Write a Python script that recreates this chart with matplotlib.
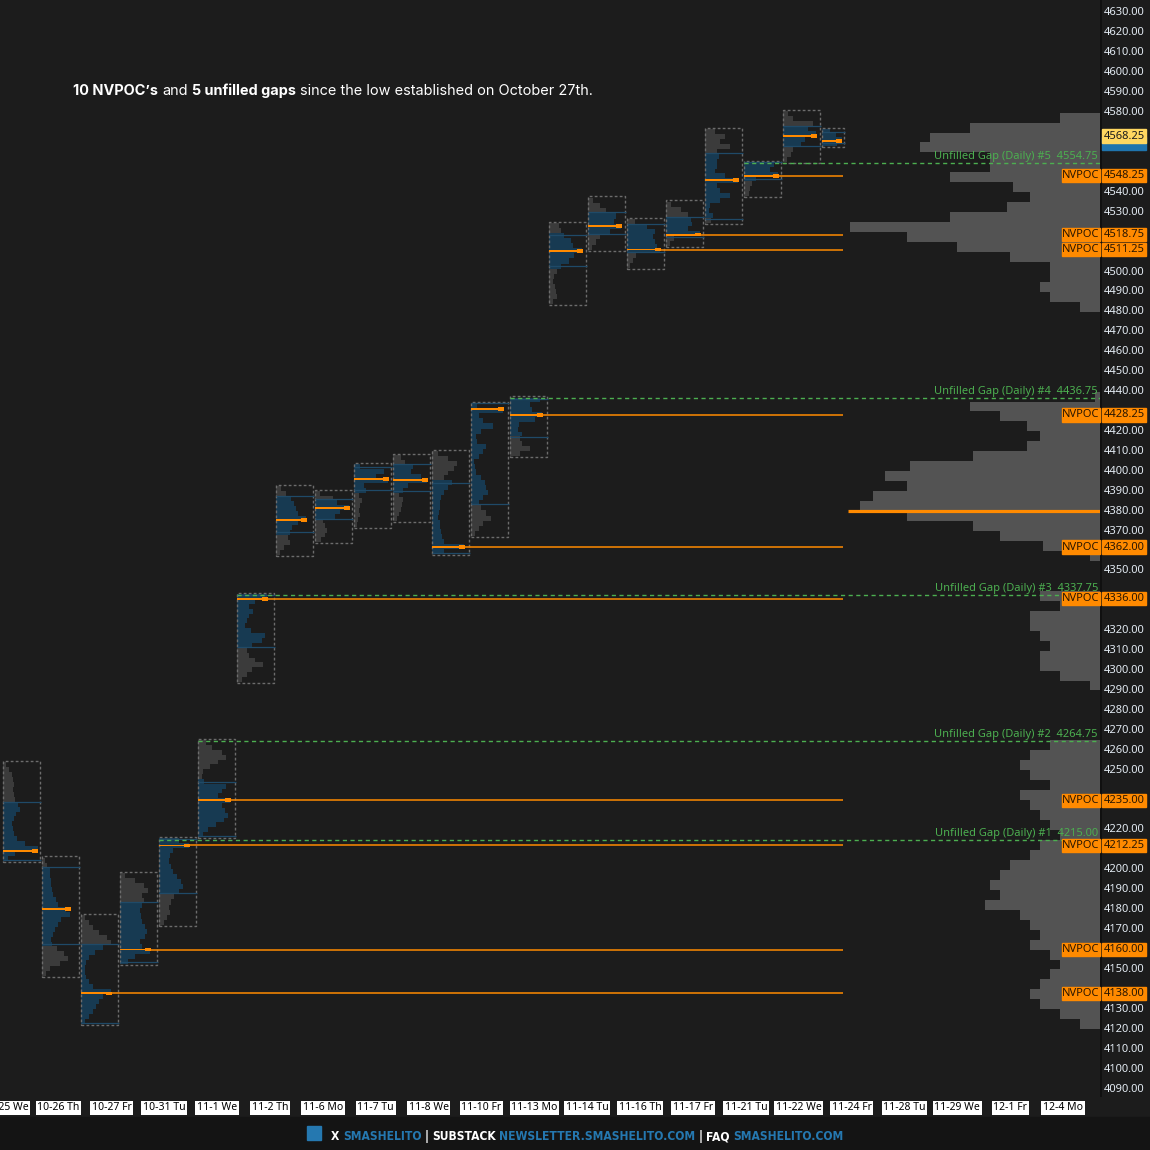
import numpy as np
import matplotlib
matplotlib.use('Agg')
import matplotlib.pyplot as plt
from matplotlib.patches import Rectangle
from matplotlib import font_manager

# colours
BG = '#1c1c1c'
BLUE = '#173a52'
GRAY = '#3b3b3b'
ORANGE = '#ff8a00'
GREEN = '#4caf50'

W, H = 1150, 1150

# daily profiles (prices), volume widths listed low -> high
day_low = [4204.5, 4146.7, 4122.6, 4152.7, 4172.3, 4216.5, 4294.3, 4358.0, 4364.5, 4372.0, 4375.0,
           4358.5, 4367.5, 4407.7, 4483.9, 4511.1, 4502.0, 4513.0, 4524.6, 4538.2, 4555.2, 4563.3]
day_high = [4254.0, 4206.0, 4177.3, 4198.4, 4216.0, 4265.0, 4338.4, 4392.6, 4390.1, 4403.7, 4408.2,
            4410.2, 4434.3, 4437.0, 4524.6, 4537.2, 4526.6, 4535.2, 4571.8, 4555.2, 4580.8, 4571.8]
day_vah = [4234.0, 4201.4, 4162.8, 4183.9, 4215.5, 4244.1, 4338.0, 4387.5, 4386.0, 4402.0, 4403.5,
           4394.0, 4434.3, 4436.5, 4518.5, 4530.0, 4524.0, 4527.8, 4559.5, 4555.0, 4573.5, 4570.5]
day_val = [4205.0, 4162.8, 4123.0, 4153.5, 4188.4, 4217.0, 4311.8, 4369.5, 4376.0, 4390.5, 4390.3,
           4359.0, 4383.6, 4417.4, 4503.0, 4519.0, 4510.0, 4517.6, 4526.5, 4546.5, 4563.0, 4564.5]
day_poc = [4209.5, 4180.4, 4138.0, 4160.0, 4212.25, 4235.0, 4336.0, 4375.6, 4381.6, 4396.1, 4395.6,
           4362.0, 4431.3, 4428.25, 4510.6, 4523.1, 4511.25, 4518.75, 4546.2, 4548.25, 4568.3, 4565.8]
day_vol = [
    [5, 12, 35, 22, 14, 11, 10, 9, 11, 13, 17, 15, 12, 11, 10, 11, 10, 9, 6, 3],
    [4, 8, 18, 26, 22, 15, 10, 9, 11, 13, 16, 19, 28, 24, 16, 14, 11, 10, 9, 9, 8, 8, 5, 3],
    [4, 8, 12, 15, 18, 22, 30, 12, 8, 5, 4, 4, 5, 8, 14, 22, 30, 26, 18, 12, 8, 4],
    [8, 15, 30, 22, 20, 25, 27, 25, 22, 21, 20, 22, 24, 22, 28, 24, 15, 5],
    [5, 8, 11, 10, 12, 15, 20, 24, 22, 18, 14, 12, 10, 11, 14, 30, 20],
    [5, 10, 18, 26, 30, 27, 24, 32, 20, 24, 28, 6, 4, 5, 12, 20, 28, 24, 14, 8],
    [5, 10, 15, 26, 18, 12, 10, 15, 25, 28, 14, 8, 10, 12, 16, 12, 18, 30],
    [4, 8, 14, 12, 14, 16, 22, 30, 22, 20, 18, 15, 10, 5],
    [6, 10, 12, 10, 8, 20, 25, 34, 22, 18, 5],
    [3, 4, 6, 5, 6, 8, 5, 12, 10, 34, 22, 30, 6],
    [4, 6, 8, 9, 10, 6, 10, 15, 34, 28, 18, 20, 12, 8],
    [12, 32, 12, 10, 9, 8, 8, 6, 7, 8, 8, 9, 12, 16, 20, 12, 16, 22, 25, 16, 6],
    [4, 8, 12, 20, 15, 10, 8, 12, 17, 15, 14, 10, 5, 4, 3, 8, 12, 15, 6, 5, 10, 22, 12, 8, 32, 6],
    [10, 20, 12, 10, 12, 8, 9, 25, 32, 22, 20, 30],
    [4, 8, 7, 6, 4, 5, 8, 12, 20, 25, 33, 24, 22, 15, 12, 10],
    [4, 8, 12, 22, 33, 26, 28, 18, 12, 5],
    [3, 6, 9, 33, 30, 28, 26, 28, 20, 8],
    [4, 8, 34, 22, 26, 25, 22, 15, 5],
    [6, 8, 4, 5, 15, 25, 15, 12, 33, 20, 10, 12, 12, 14, 12, 25, 15, 20, 10],
    [5, 6, 8, 12, 34, 26, 30],
    [4, 8, 10, 18, 22, 33, 25, 30, 10, 5],
    [15, 20, 14, 8],
]

# naked POCs and unfilled gaps
nvpoc_day = [2, 3, 4, 5, 6, 11, 13, 16, 17, 19]
gap_value = [4215.00, 4264.75, 4337.75, 4436.75, 4554.75]
gap_day = [4, 5, 6, 13, 19]
gap_name = ['#1', '#2', '#3', '#4', '#5']

# composite profile, 5 point bins starting at 4120
comp_start = 4120.0
comp_vol = [20, 40, 60, 70, 60, 50, 40, 50, 70, 60, 70, 80, 115, 100, 110, 100, 90, 70, 60, 40,
            50, 60, 70, 80, 50, 70, 80, 70, 50, 0, 0, 0, 0, 0, 10, 40, 60, 60, 50, 60,
            70, 70, 40, 60, 0, 0, 0, 10, 57, 100, 127, 193, 240, 227, 193, 215, 190, 127, 73, 60,
            73, 100, 130, 5, 0, 0, 0, 0, 0, 0, 0, 0, 20, 50, 60, 50, 50, 90, 143, 193,
            250, 150, 93, 70, 87, 150, 110, 110, 180, 170, 130, 40]
comp_poc = 4380.0
last_price = 4568.25
prev_price = 4564.50

date_labels = ['10-25 We', '10-26 Th', '10-27 Fr', '10-31 Tu', '11-1 We', '11-2 Th', '11-6 Mo',
               '11-7 Tu', '11-8 We', '11-10 Fr', '11-13 Mo', '11-14 Tu', '11-16 Th', '11-17 Fr',
               '11-21 Tu', '11-22 We', '11-24 Fr', '11-28 Tu', '11-29 We', '12-1 Fr', '12-4 Mo']

fig = plt.figure(figsize=(W / 100, H / 100), dpi=100, facecolor=BG)
ax = fig.add_axes([0, 53 / H, 1100 / W, 1097 / H])
ax.set_facecolor(BG)
ax.set_xlim(0, 1100)
ax.set_ylim(4086.0, 4636.5)
ax.axis('off')

# composite profile on the right
cp = comp_start + 2.5 + 5 * np.arange(len(comp_vol))
ax.barh(cp, -np.array(comp_vol, float), left=1100, height=5, color='#535353', lw=0, zorder=1)
ax.hlines(comp_poc, 848, 1100, color=ORANGE, lw=2.3, zorder=3)

# daily profiles
n = len(day_low)
for i in range(n):
    x0 = 3 + 39 * i
    bw = 36 if i < n - 1 else 21
    lo, hi = day_low[i], day_high[i]
    vols = np.array(day_vol[i], float)
    step = (hi - lo) / len(vols)
    mids = lo + step * (np.arange(len(vols)) + 0.5)
    in_va = (mids >= day_val[i] - 0.5) & (mids <= day_vah[i] + 0.5)
    cols = [BLUE if v else GRAY for v in in_va]
    ax.barh(mids, vols, left=x0, height=step, color=cols, lw=0, zorder=2)
    ax.add_patch(Rectangle((x0, lo - 0.7), bw + 0.5, hi - lo + 1.4, fill=False,
                           ec='#6c6c6c', lw=1, ls=(0, (2, 1.6)), zorder=3))
    ax.hlines([day_val[i], day_vah[i]], x0, x0 + bw + 2, color='#1f4a68', lw=0.9, zorder=3)
    pw = min(vols.max() + 1, bw - 1)
    ax.barh(day_poc[i], pw, left=x0, height=0.9, color=ORANGE, lw=0, zorder=4)
    ax.barh(day_poc[i], 6, left=x0 + pw - 6, height=1.7, color=ORANGE, lw=0, zorder=4)
    if i in nvpoc_day:
        ax.hlines(day_poc[i], x0 + pw, 843, color=ORANGE, lw=1.1, zorder=3)

# unfilled gaps
for g, d, nm in zip(gap_value, gap_day, gap_name):
    ax.hlines(g, 3 + 39 * d, 1100, color=GREEN, lw=1, linestyles=(0, (3, 2.5)), zorder=5)

fig.canvas.draw()
r = fig.canvas.get_renderer()


def text_w(s, **kw):
    t = fig.text(0, 0, s, **kw)
    w = t.get_window_extent(r).width
    t.remove()
    return w


# gap labels
gkw = dict(family='Noto Sans', fontsize=8.4)
gs = 8.4 * 162 / text_w('Unfilled Gap (Daily) #5  4554.75', **gkw)
for g, nm in zip(gap_value, gap_name):
    ax.text(1098, g + 2.0, f'Unfilled Gap (Daily) {nm}  {g:.2f}', family='Noto Sans',
            fontsize=gs, color=GREEN, ha='right', va='baseline', zorder=6)

# price axis
boxed = [day_poc[i] for i in nvpoc_day] + [last_price, prev_price]
ax.vlines(1100.5, 4086.0, 4636.5, color='#0e0e0e', lw=1.2, clip_on=False, zorder=6)
for p in range(4090, 4631, 10):
    if min(abs(p - b) for b in boxed) < 6.5:
        continue
    ax.text(1104, p, f'{p:.2f}', family='Noto Sans', fontsize=8, color='#e2eaf2',
            ha='left', va='center', clip_on=False, zorder=7)

bh = 3.3
for i in nvpoc_day:
    p = day_poc[i]
    ax.add_patch(Rectangle((1102, p - bh), 44, 2 * bh, color=ORANGE, clip_on=False, zorder=8))
    ax.add_patch(Rectangle((1062, p - bh), 38, 2 * bh, color=ORANGE, clip_on=False, zorder=8))
    ax.text(1124, p, f'{p:.2f}', family='Noto Sans', fontsize=8, color='#2a1600',
            ha='center', va='center', clip_on=False, zorder=9)
    ax.text(1081, p, 'NVPOC', family='Noto Sans', fontsize=8, color='#2a1600',
            ha='center', va='center', clip_on=False, zorder=9)

ax.add_patch(Rectangle((1102, prev_price - bh), 44, 2 * bh, color='#1f74ad', clip_on=False, zorder=8))
ax.add_patch(Rectangle((1102, last_price - bh), 44, 2 * bh, color='#ffd760', clip_on=False, zorder=10))
ax.text(1124, last_price, f'{last_price:.2f}', family='Noto Sans', fontsize=8, color='#1c1c1c',
        ha='center', va='center', clip_on=False, zorder=11)

# date strip
for k, lab in enumerate(date_labels):
    fig.text((5.7 + 52.87 * k) / W, 1 - 1108 / H, lab, family='Noto Sans', fontsize=7.5,
             color='black', ha='center', va='center',
             bbox=dict(facecolor='white', edgecolor='none', pad=1.2))

# footer band
fig.patches.append(Rectangle((0, 0), 1, 33 / H, transform=fig.transFigure,
                             color='#141414', zorder=0))


def run_text(x_px, y_px, pieces, size, gap, **kw):
    x = x_px
    for s, wgt, col in pieces:
        t = fig.text(x / W, 1 - y_px / H, s, fontsize=size, fontweight=wgt, color=col,
                     ha='left', va='baseline', **kw)
        x += t.get_window_extent(r).width + gap
    return x


def run_width(pieces, size, **kw):
    tot = sum(text_w(s, fontsize=size, fontweight=wgt, **kw) for s, wgt, c in pieces)
    sp = text_w('a a', fontsize=size, **kw) - text_w('aa', fontsize=size, **kw)
    return tot, sp


# title
title = [('10 NVPOC’s', 'bold', 'white'), ('and', 'normal', 'white'),
         ('5 unfilled gaps', 'bold', 'white'),
         ('since the low established on October 27th.', 'normal', 'white')]
tw, tsp = run_width(title, 10, family='Inter')
tsize = 10 * 521 / (tw + tsp * (len(title) - 1))
tw, tsp = run_width(title, tsize, family='Inter')
run_text(73, 95, title, tsize, tsp, family='Inter')

# footer
names = {f.name for f in font_manager.fontManager.ttflist}
if 'Liberation Sans Narrow' in names:
    fkw = dict(family='Liberation Sans Narrow')
else:
    fkw = dict(family='DejaVu Sans', fontstretch='condensed')
FB = '#2578b0'
footer = [('X', 'bold', 'white'), ('SMASHELITO', 'bold', FB), ('|', 'bold', 'white'),
          ('SUBSTACK', 'bold', 'white'), ('NEWSLETTER.SMASHELITO.COM', 'bold', FB),
          ('|', 'bold', 'white'), ('FAQ', 'bold', 'white'), ('SMASHELITO.COM', 'bold', FB)]
fw, fsp = run_width(footer, 12, **fkw)
fsize = 12 * 511 / (fw + fsp * (len(footer) - 1))
fw, fsp = run_width(footer, fsize, **fkw)
fig.patches.append(Rectangle((307 / W, 1 - 1140 / H), 14 / W, 14 / H, transform=fig.transFigure,
                             color=FB, zorder=2))
run_text(331, 1140, footer, fsize, fsp, **fkw)

fig.savefig('out.png', dpi=100, facecolor=BG)
